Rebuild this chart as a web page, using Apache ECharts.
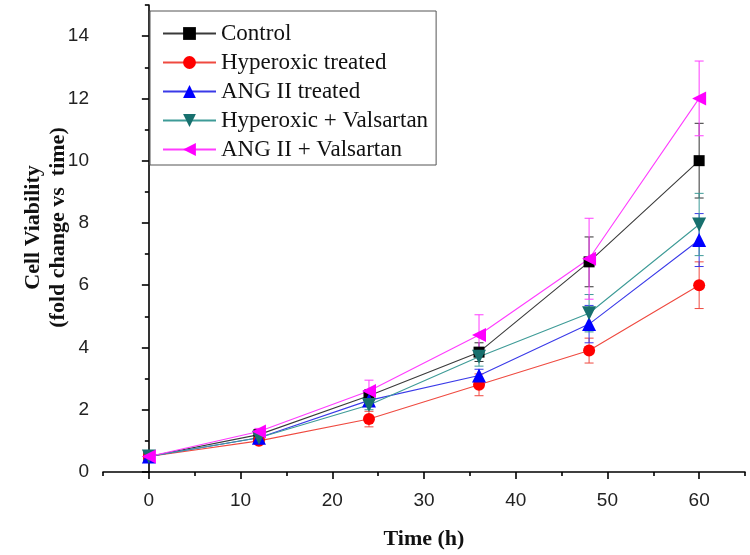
<!DOCTYPE html>
<html>
<head>
<meta charset="utf-8">
<script src="https://cdn.jsdelivr.net/npm/echarts@6/dist/echarts.min.js"></script>
<style>
html,body{margin:0;padding:0;background:#fff;}
#chart{width:750px;height:555px;}
</style>
</head>
<body>
<div id="chart"></div>
<script>
// ---- data ----
const timeH = [0, 12, 24, 36, 48, 60];
const seriesNames = ['Control', 'Hyperoxic treated', 'ANG II treated', 'Hyperoxic + Valsartan', 'ANG II + Valsartan'];
const controlVals   = [0.5, 1.2, 2.45, 3.85, 6.75, 10.0];
const hyperoxicVals = [0.5, 1.0, 1.7, 2.8, 3.9, 6.0];
const angVals       = [0.5, 1.1, 2.3, 3.1, 4.75, 7.45];
const hypValVals    = [0.5, 1.1, 2.15, 3.7, 5.1, 7.95];
const angValVals    = [0.5, 1.3, 2.6, 4.4, 6.85, 12.0];
const controlErr    = [0.05, 0.1, 0.2, 0.3, 0.8, 1.2];
const hyperoxicErr  = [0.05, 0.08, 0.25, 0.35, 0.4, 0.75];
const angErr        = [0.05, 0.1, 0.15, 0.2, 0.6, 0.85];
const hypValErr     = [0.05, 0.1, 0.15, 0.3, 0.6, 1.0];
const angValErr     = [0.05, 0.1, 0.35, 0.65, 1.3, 1.2];
const xMajorTicks = [0, 10, 20, 30, 40, 50, 60];
const xMinorTicks = [-5, 5, 15, 25, 35, 45, 55, 65];
const yMajorTicks = [0, 2, 4, 6, 8, 10, 12, 14];
const yMinorTicks = [1, 3, 5, 7, 9, 11, 13, 15];

// ---- styles ----
const styles = [
  {marker:'#000000', line:'#3a3a3a', err:'#333333', symbol:'rect', size:11, rot:0},
  {marker:'#ff0000', line:'#ef4a40', err:'#ef4a40', symbol:'circle', size:12, rot:0},
  {marker:'#0000ff', line:'#3a3ae8', err:'#3a3ae8', symbol:'triangle', size:14, rot:0},
  {marker:'#17706e', line:'#3e9b97', err:'#3e9b97', symbol:'triangle', size:14, rot:180},
  {marker:'#ff00ff', line:'#ff3cff', err:'#ff3cff', symbol:'triangle', size:14, rot:90}
];
const allVals = [controlVals, hyperoxicVals, angVals, hypValVals, angValVals];
const allErr = [controlErr, hyperoxicErr, angErr, hypValErr, angValErr];

const serif = 'Liberation Serif';
const sans = 'Liberation Sans';

function errRenderer(color){
  return function(params, api){
    const x = api.value(0), y = api.value(1), e = api.value(2);
    const hi = api.coord([x, y + e]);
    const lo = api.coord([x, y - e]);
    const w = 4.5;
    const st = {stroke: color, lineWidth: 1};
    return {type:'group', children:[
      {type:'line', shape:{x1:hi[0], y1:hi[1], x2:lo[0], y2:lo[1]}, style:st},
      {type:'line', shape:{x1:hi[0]-w, y1:hi[1], x2:hi[0]+w, y2:hi[1]}, style:st},
      {type:'line', shape:{x1:lo[0]-w, y1:lo[1], x2:lo[0]+w, y2:lo[1]}, style:st}
    ]};
  };
}

const series = [];
seriesNames.forEach((name, i) => {
  series.push({
    name: name + ' err',
    type: 'custom',
    renderItem: errRenderer(styles[i].err),
    encode: {x: 0, y: 1},
    data: timeH.map((t, k) => [t, allVals[i][k], allErr[i][k]]),
    z: 2
  });
});
seriesNames.forEach((name, i) => {
  series.push({
    name: name,
    type: 'line',
    data: timeH.map((t, k) => [t, allVals[i][k]]),
    symbol: styles[i].symbol,
    symbolSize: styles[i].size,
    symbolRotate: styles[i].rot,
    showAllSymbol: true,
    itemStyle: {color: styles[i].marker},
    lineStyle: {color: styles[i].line, width: 1.1},
    z: 3
  });
});

const axisLineStyle = {color:'#000', width:1.6};

const option = {
  animation: false,
  backgroundColor: '#fff',
  grid: {left: 103, right: 5, top: 5, bottom: 82, containLabel: false},
  legend: {
    data: seriesNames,
    orient: 'vertical',
    left: 150,
    top: 11,
    padding: [11, 8, 4, 12],
    itemGap: 6,
    itemWidth: 53,
    itemHeight: 16,
    borderColor: '#555',
    borderWidth: 1,
    textStyle: {fontFamily: serif, fontSize: 23, color: '#111', lineHeight: 23}
  },
  xAxis: [
    {
      type: 'value', min: -5, max: 65, interval: 5, position: 'bottom',
      name: 'Time (h)', nameLocation: 'middle', nameGap: 56, nameMoveOverlap: false,
      nameTextStyle: {fontFamily: serif, fontWeight: 'bold', fontSize: 22, color: '#111'},
      axisLine: {show: true, lineStyle: axisLineStyle},
      axisTick: {show: true, length: 7, lineStyle: axisLineStyle, customValues: xMajorTicks},
      axisLabel: {customValues: xMajorTicks, fontFamily: sans, fontSize: 19, color: '#222', margin: 19},
      splitLine: {show: false}
    },
    {
      type: 'value', min: -5, max: 65, interval: 5, position: 'bottom', offset: 0,
      axisLine: {show: false},
      axisTick: {show: true, length: 4, lineStyle: axisLineStyle, customValues: xMinorTicks},
      axisLabel: {show: false},
      splitLine: {show: false}
    }
  ],
  yAxis: [
    {
      type: 'value', min: 0, max: 15, interval: 1, position: 'left',
      name: 'Cell Viability\n(fold change vs  time)', nameLocation: 'middle', nameGap: 32, nameRotate: 90,
      nameMoveOverlap: false,
      nameTextStyle: {fontFamily: serif, fontWeight: 'bold', fontSize: 22, color: '#111', lineHeight: 25, padding: [0, 0, 0, 22]},
      axisLine: {show: true, lineStyle: axisLineStyle},
      axisTick: {show: true, length: 7, lineStyle: axisLineStyle, customValues: yMajorTicks},
      axisLabel: {customValues: yMajorTicks, fontFamily: sans, fontSize: 19, color: '#222', margin: 14},
      splitLine: {show: false}
    },
    {
      type: 'value', min: 0, max: 15, interval: 1, position: 'left', offset: 0,
      axisLine: {show: false},
      axisTick: {show: true, length: 4, lineStyle: axisLineStyle, customValues: yMinorTicks},
      axisLabel: {show: false},
      splitLine: {show: false}
    }
  ],
  series: series
};

const chart = echarts.init(document.getElementById('chart'), null, {renderer: 'canvas'});
chart.setOption(option);
</script>
</body>
</html>
